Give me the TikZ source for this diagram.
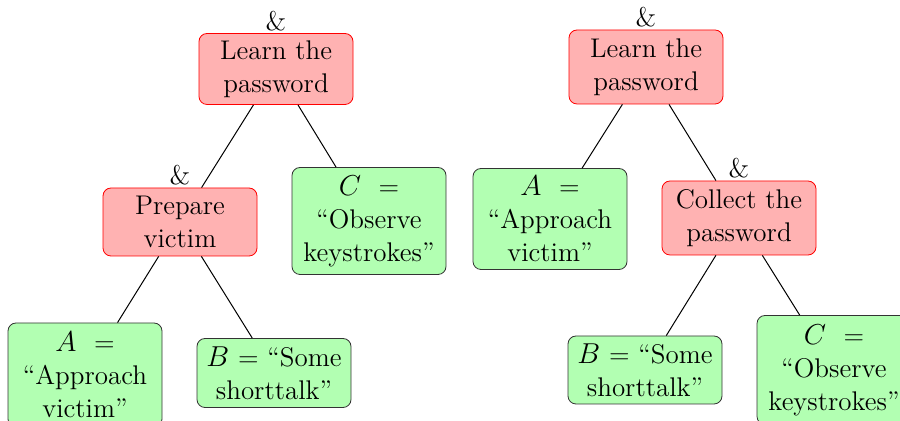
\documentclass[tikz,border=0pt]{standalone}
\begin{document}
\begin{tikzpicture}[x=0.5pt,y=-0.5pt,
  base/.style={rounded corners=4pt, align=center, minimum width=77pt, inner sep=3pt,
    font=\fontsize{13.5}{16.5}\selectfont},
  andbox/.style={base, draw=red, fill=red!30},
  leafbox/.style={base, draw=black!80, fill=green!30},
  andlabel/.style={label={[font=\fontsize{13.5}{16.5}\selectfont, inner sep=1pt]above:\&}},
  edge/.style={draw=black, line width=0.5pt}]
\useasboundingbox (0,0) rectangle (900,421);
% left tree
\node[andbox, andlabel, minimum height=35.5pt] (l1) at (276,69) {Learn the\\password};
\node[andbox, andlabel, minimum height=34pt] (l2) at (180,222) {Prepare\\victim};
\node[leafbox, minimum height=53.5pt] (lc) at (369,221) {$C$ \ =\\``Observe\\keystrokes''};
\node[leafbox, minimum height=52pt] (la) at (85,375) {$A$ \ =\\``Approach\\victim''};
\node[leafbox, minimum height=34.5pt] (lb) at (274,373) {$B$ = ``Some\\shorttalk''};
\draw[edge] (l1) -- (l2);
\draw[edge] (l1) -- (lc);
\draw[edge] (l2) -- (la);
\draw[edge] (l2) -- (lb);
% right tree
\node[andbox, andlabel, minimum height=37pt] (r1) at (646,67) {Learn the\\password};
\node[leafbox, minimum height=50.5pt] (ra) at (550,219) {$A$ \ =\\``Approach\\victim''};
\node[andbox, andlabel, minimum height=37pt] (r2) at (739,218) {Collect the\\password};
\node[leafbox, minimum height=34pt] (rb) at (645,370) {$B$ = ``Some\\shorttalk''};
\node[leafbox, minimum height=54.5pt] (rc) at (834,370) {$C$ \ =\\``Observe\\keystrokes''};
\draw[edge] (r1) -- (ra);
\draw[edge] (r1) -- (r2);
\draw[edge] (r2) -- (rb);
\draw[edge] (r2) -- (rc);
\end{tikzpicture}
\end{document}
